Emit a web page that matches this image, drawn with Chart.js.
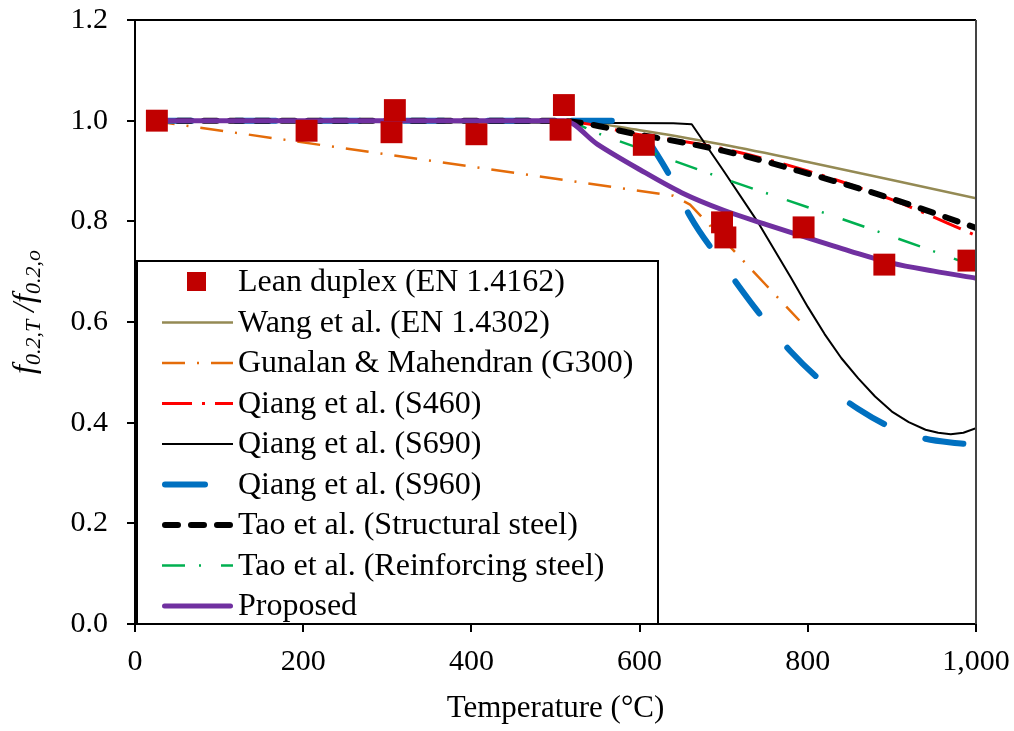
<!DOCTYPE html>
<html>
<head>
<meta charset="utf-8">
<script src="https://cdn.jsdelivr.net/npm/chart.js@4.4.1/dist/chart.umd.min.js"></script>
<style>
  body { margin: 0; background: #fff; }
  canvas { display: block; }
</style>
</head>
<body>
<canvas id="myChart" width="1014" height="731"></canvas>
<script>
// test points, lean duplex EN 1.4162
var leanT = [26, 204, 309, 305, 406, 510, 506, 605, 698, 702, 795, 891, 991];
var leanF = [1.0, 0.98, 1.021, 0.977, 0.973, 1.031, 0.982, 0.952, 0.798, 0.768, 0.788, 0.714, 0.722];

var wangT = [20, 510, 600, 700, 800, 900, 1000];
var wangF = [1.0, 1.0, 0.981, 0.952, 0.918, 0.882, 0.846];

var gunT = [20, 640, 660, 700, 750, 790];
var gunF = [1.0, 0.851, 0.833, 0.763, 0.674, 0.603];

var s460T = [20, 500, 600, 700, 800, 900, 1000];
var s460F = [1.0, 1.0, 0.972, 0.944, 0.9, 0.843, 0.772];

var s690T = [20, 640, 662, 700, 740, 780, 800, 820, 840, 860, 880, 900, 920, 940, 955, 970, 985, 1000];
var s690F = [1.0, 0.995, 0.993, 0.9, 0.8, 0.688, 0.63, 0.576, 0.528, 0.488, 0.452, 0.422, 0.401, 0.386, 0.38, 0.377, 0.38, 0.389];

var s960T = [20, 590, 600, 620, 640, 660, 700, 740, 780, 820, 860, 900, 940, 985];
var s960F = [1.0, 1.0, 0.985, 0.935, 0.878, 0.81, 0.713, 0.622, 0.541, 0.477, 0.427, 0.39, 0.368, 0.358];

var taoST = [20, 500, 600, 700, 800, 900, 1000];
var taoSF = [1.0, 1.0, 0.972, 0.94, 0.895, 0.845, 0.787];

var taoRT = [20, 510, 550, 600, 700, 800, 900, 1000];
var taoRF = [1.0, 1.0, 0.975, 0.945, 0.885, 0.828, 0.77, 0.71];

var propT = [20, 510, 550, 600, 650, 700, 750, 800, 850, 900, 950, 1000];
var propF = [1.0, 1.0, 0.953, 0.903, 0.857, 0.822, 0.794, 0.767, 0.741, 0.717, 0.701, 0.687];

var xTicks = [0, 200, 400, 600, 800, 1000];
var yTicks = [0, 0.2, 0.4, 0.6, 0.8, 1.0, 1.2];

var FONT = 'Liberation Serif';

function pts(xs, ys) {
    return xs.map(function (x, i) { return { x: x, y: ys[i] }; });
}

function lineSet(label, xs, ys, color, width, dash, cap, order, smooth) {
    return {
        type: 'line',
        label: label,
        data: pts(xs, ys),
        borderColor: color,
        borderWidth: width,
        borderDash: dash,
        borderCapStyle: cap,
        borderJoinStyle: 'round',
        pointRadius: 0,
        fill: false,
        cubicInterpolationMode: smooth ? 'monotone' : 'default',
        tension: 0,
        order: order
    };
}

function noPad(s) {
    s.paddingTop = 0;
    s.paddingBottom = 0;
    s.paddingLeft = 0;
    s.paddingRight = 0;
}

var frame = {
    id: 'frame',
    beforeDraw: function (chart) {
        var c = chart.ctx;
        c.save();
        c.fillStyle = '#fff';
        c.fillRect(0, 0, chart.width, chart.height);
        c.restore();
    },
    afterDatasetsDraw: function (chart) {
        var c = chart.ctx;
        var a = chart.chartArea;
        c.save();
        // top and right border of plot area
        c.strokeStyle = '#000';
        c.lineWidth = 2;
        c.setLineDash([]);
        c.beginPath();
        c.moveTo(a.left - 8, a.top);
        c.lineTo(a.right, a.top);
        c.stroke();
        c.strokeStyle = '#444';
        c.beginPath();
        c.moveTo(a.right, a.top);
        c.lineTo(a.right, a.bottom);
        c.stroke();

        // legend box
        var bx = 137, by = 261, bw = 521, bh = a.bottom - 261;
        c.fillStyle = '#fff';
        c.fillRect(bx, by, bw, bh);
        c.strokeStyle = '#000';
        c.lineWidth = 2;
        c.strokeRect(bx, by, bw, bh);

        var ds = chart.data.datasets;
        c.font = '32px "' + FONT + '"';
        c.textBaseline = 'middle';
        c.textAlign = 'left';
        for (var i = 0; i < ds.length; i++) {
            var d = ds[i];
            var yy = 282 + i * 40.5;
            if (d.type === 'scatter') {
                c.fillStyle = d.backgroundColor;
                c.fillRect(187, yy - 10, 19, 19);
            } else {
                var round = d.borderCapStyle === 'round';
                var half = round ? d.borderWidth / 2 : 0;
                c.strokeStyle = d.borderColor;
                c.lineWidth = d.borderWidth;
                c.lineCap = d.borderCapStyle;
                c.setLineDash(d.borderDash);
                c.beginPath();
                c.moveTo(162 + half, yy);
                c.lineTo(233 - half, yy);
                c.stroke();
                c.setLineDash([]);
                c.lineCap = 'butt';
            }
            c.fillStyle = '#000';
            c.fillText(d.label, 238, yy + 1);
        }

        // axis titles
        c.fillStyle = '#000';
        c.font = '31px "' + FONT + '"';
        c.textAlign = 'center';
        c.textBaseline = 'alphabetic';
        c.fillText('Temperature (\u00B0C)', (a.left + a.right) / 2, 717);

        // y title with subscripts, rotated
        var parts = [
            ['f', 32, 0], ['0.2,T', 22, 6], [' /', 32, 0], ['f', 32, 0], ['0.2,o', 22, 6]
        ];
        c.translate(34, 312);
        c.rotate(-Math.PI / 2);
        c.textAlign = 'left';
        var total = 0;
        parts.forEach(function (p) {
            c.font = 'italic ' + p[1] + 'px "' + FONT + '"';
            total += c.measureText(p[0]).width;
        });
        var x = -total / 2;
        parts.forEach(function (p) {
            c.font = 'italic ' + p[1] + 'px "' + FONT + '"';
            c.fillText(p[0], x, p[2]);
            x += c.measureText(p[0]).width;
        });
        c.restore();
    }
};

function drawChart() {
    var ctx = document.getElementById('myChart').getContext('2d');
    var myChart = new Chart(ctx, {
        type: 'line',
        data: {
            datasets: [
                {
                    type: 'scatter',
                    label: 'Lean duplex (EN 1.4162)',
                    data: pts(leanT, leanF),
                    pointStyle: 'rect',
                    pointRadius: 15.5,
                    pointHoverRadius: 15.5,
                    backgroundColor: '#C00000',
                    borderWidth: 0,
                    showLine: false,
                    order: 0
                },
                lineSet('Wang et al. (EN 1.4302)', wangT, wangF, '#948A54', 2.5, [], 'butt', 8, true),
                lineSet('Gunalan & Mahendran (G300)', gunT, gunF, '#E46C0A', 2.5, [23, 12, 2, 12], 'butt', 7, false),
                lineSet('Qiang et al. (S460)', s460T, s460F, '#FF0000', 3, [30, 10, 3, 10], 'butt', 4, true),
                lineSet('Qiang et al. (S690)', s690T, s690F, '#000000', 2, [], 'butt', 6, false),
                lineSet('Qiang et al. (S960)', s960T, s960F, '#0070C0', 6, [40, 44], 'round', 5, true),
                lineSet('Tao et al. (Structural steel)', taoST, taoSF, '#000000', 6, [13, 13], 'round', 2, true),
                lineSet('Tao et al. (Reinforcing steel)', taoRT, taoRF, '#00B050', 2.5, [23, 14, 2, 20], 'butt', 3, true),
                lineSet('Proposed', propT, propF, '#7030A0', 5, [], 'round', 1, true)
            ]
        },
        options: {
            responsive: false,
            animation: false,
            devicePixelRatio: 1,
            layout: {
                autoPadding: false,
                padding: { top: 20, right: 38, left: 0, bottom: 0 }
            },
            plugins: {
                legend: { display: false },
                tooltip: { enabled: false }
            },
            scales: {
                x: {
                    type: 'linear',
                    min: xTicks[0],
                    max: xTicks[xTicks.length - 1],
                    afterBuildTicks: function (s) { s.ticks = xTicks.map(function (v) { return { value: v }; }); },
                    afterFit: function (s) { s.height = 107; noPad(s); },
                    ticks: {
                        color: '#000',
                        padding: 12,
                        maxRotation: 0,
                        font: { family: FONT, size: 30 },
                        callback: function (v) { return v.toLocaleString('en-US'); }
                    },
                    grid: {
                        display: true,
                        drawOnChartArea: false,
                        drawTicks: true,
                        tickLength: 8,
                        color: '#000',
                        lineWidth: 2
                    },
                    border: { display: true, color: '#000', width: 2 }
                },
                y: {
                    min: yTicks[0],
                    max: yTicks[yTicks.length - 1],
                    afterBuildTicks: function (s) { s.ticks = yTicks.map(function (v) { return { value: v }; }); },
                    afterFit: function (s) { s.width = 135; noPad(s); },
                    ticks: {
                        color: '#000',
                        padding: 19,
                        font: { family: FONT, size: 30 },
                        callback: function (v) { return v.toFixed(1); }
                    },
                    grid: {
                        display: true,
                        drawOnChartArea: false,
                        drawTicks: true,
                        tickLength: 8,
                        color: '#000',
                        lineWidth: 2
                    },
                    border: { display: true, color: '#000', width: 2 }
                }
            }
        },
        plugins: [frame]
    });
}
drawChart();
</script>
</body>
</html>
